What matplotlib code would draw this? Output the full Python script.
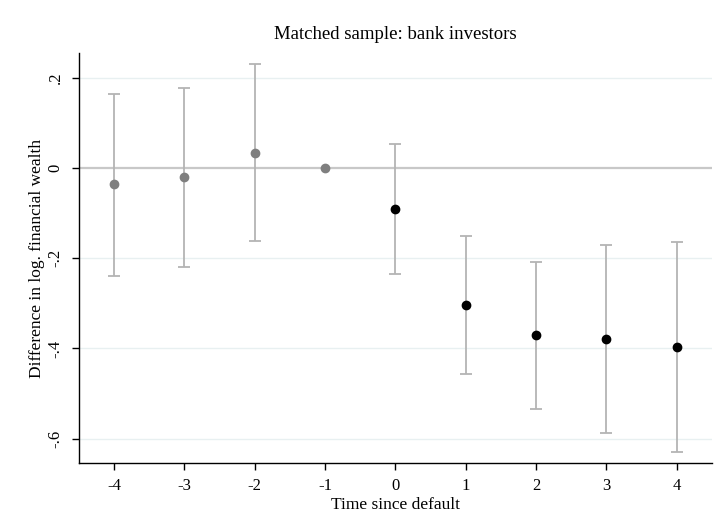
import numpy as np
import matplotlib.pyplot as plt

# Event-study estimates
years = [-4, -3, -2, -1, 0, 1, 2, 3, 4]
coef = [-0.035, -0.020, 0.033, 0.0, -0.091, -0.304, -0.370, -0.379, -0.397]
upper = [0.164, 0.177, 0.230, 0.0, 0.053, -0.151, -0.208, -0.170, -0.164]
lower = [-0.239, -0.219, -0.162, 0.0, -0.236, -0.456, -0.534, -0.587, -0.630]
ytick_vals = [0.2, 0.0, -0.2, -0.4, -0.6]
ytick_labels = [".2", "0", "-.2", "-.4", "-.6"]

plt.rcParams["font.family"] = ["Liberation Serif", "DejaVu Serif"]

fig = plt.figure(figsize=(7.2, 5.3), dpi=100)
ax = fig.add_axes([0.1097, 0.1264, 0.879, 0.7736])

ax.axhline(0, color="#c8c8c8", lw=1.6, zorder=1)
for v in ytick_vals:
    if v != 0:
        ax.axhline(v, color="#e8f0f1", lw=1.0, zorder=0)

x = np.array(years)
c = np.array(coef)
up = np.array(upper)
lo = np.array(lower)
has_ci = up != lo
ax.errorbar(x[has_ci], c[has_ci], yerr=[c[has_ci] - lo[has_ci], up[has_ci] - c[has_ci]],
            fmt="none", ecolor="#b4b4b4", elinewidth=1.3, capsize=4, capthick=1.3, zorder=2)

pre = x < 0
ax.scatter(x[pre], c[pre], s=36, color="#7f7f7f", zorder=3)
ax.scatter(x[~pre], c[~pre], s=36, color="black", zorder=3)

ax.set_xlim(-4.5, 4.5)
ax.set_ylim(-0.654, 0.255)
ax.set_xticks(years)
ax.set_xticklabels([str(y) for y in years], fontsize=12)
ax.set_yticks(ytick_vals)
ax.set_yticklabels(ytick_labels, fontsize=12, rotation=90, va="center")

for s in ["top", "right"]:
    ax.spines[s].set_visible(False)
for s in ["left", "bottom"]:
    ax.spines[s].set_linewidth(1.0)
ax.tick_params(direction="out", length=5, width=1.0, pad=6)

ax.set_title("Matched sample: bank investors", fontsize=13.5, pad=10)
ax.set_xlabel("Time since default", fontsize=12.5, labelpad=2)
ax.set_ylabel("Difference in log. financial wealth", fontsize=12.5, labelpad=2)

plt.savefig("out.png", dpi=100)
